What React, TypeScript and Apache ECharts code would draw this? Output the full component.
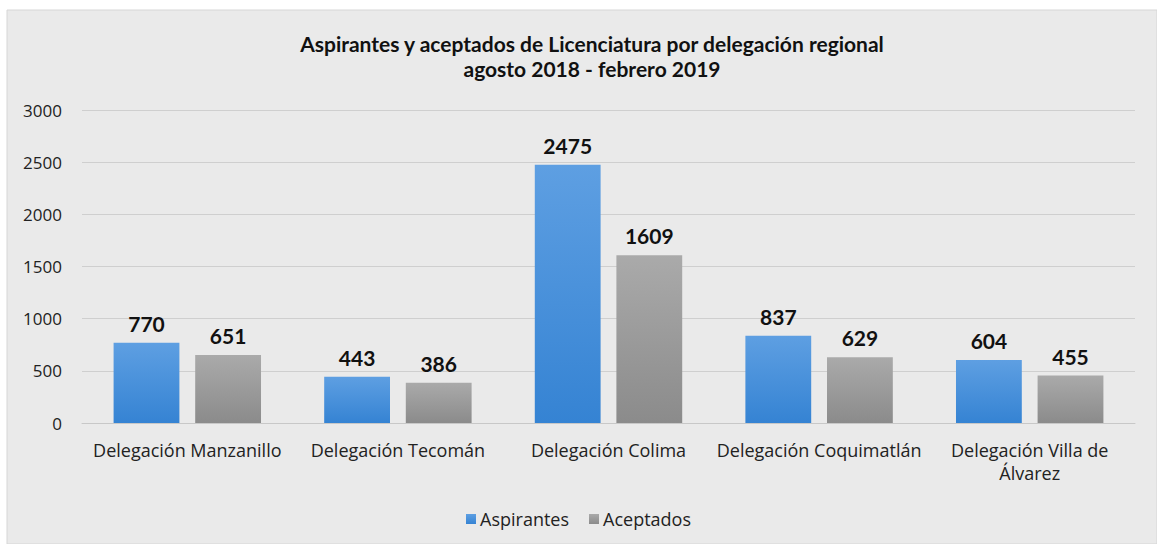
import React, { useEffect, useRef } from "react";
import * as echarts from "echarts";

const categories = [
  "Delegación Manzanillo",
  "Delegación Tecomán",
  "Delegación Colima",
  "Delegación Coquimatlán",
  "Delegación Villa de\nÁlvarez",
];
const aspirantes = [770, 443, 2475, 837, 604];
const aceptados = [651, 386, 1609, 629, 455];
const titleLines = [
  "Aspirantes y aceptados de Licenciatura por delegación regional",
  "agosto 2018 - febrero 2019",
];

const FONT = "'Open Sans', Lato, sans-serif";
const TFONT = "Lato, 'Open Sans', sans-serif";

export default function App() {
  const ref = useRef<HTMLDivElement>(null);
  useEffect(() => {
    const chart = echarts.init(ref.current!, null, { renderer: "svg" });
    const blue = new echarts.graphic.LinearGradient(0, 0, 0, 1, [
      { offset: 0, color: "#5e9fe2" },
      { offset: 1, color: "#3583d3" },
    ]);
    const grey = new echarts.graphic.LinearGradient(0, 0, 0, 1, [
      { offset: 0, color: "#aaaaaa" },
      { offset: 1, color: "#8b8b8b" },
    ]);
    const labelStyle = {
      show: true,
      position: "top",
      distance: 9,
      fontFamily: TFONT,
      fontSize: 21,
      fontWeight: "bold",
      color: "#111",
    };
    chart.setOption({
      animation: false,
      backgroundColor: "#ffffff",
      graphic: [
        {
          type: "rect",
          shape: { x: 7, y: 10, width: 1150, height: 534 },
          style: { fill: "#eaeaea", stroke: "#d6d6d6", lineWidth: 1 },
          z: -10,
        },
      ],
      title: {
        text: titleLines.join("\n"),
        left: 587,
        top: 26,
        textAlign: "center",
        textStyle: {
          fontFamily: TFONT,
          fontSize: 21,
          fontWeight: "bold",
          color: "#111",
          lineHeight: 25,
        },
      },
      legend: {
        bottom: 11,
        left: "center",
        itemWidth: 10,
        itemHeight: 10,
        itemGap: 20,
        icon: "rect",
        textStyle: { fontFamily: FONT, fontSize: 18, color: "#222", padding: [0, 0, 0, -1] },
        data: ["Aspirantes", "Aceptados"],
      },
      grid: { left: 82, right: 22, top: 110, bottom: 121, containLabel: false },
      xAxis: {
        type: "category",
        data: categories,
        axisLine: { lineStyle: { color: "#c8c8c8" } },
        axisTick: { show: false },
        axisLabel: {
          fontFamily: FONT,
          fontSize: 18,
          color: "#222",
          margin: 15,
          interval: 0,
          lineHeight: 23,
        },
      },
      yAxis: {
        type: "value",
        min: 0,
        max: 3000,
        interval: 500,
        axisLine: { show: false },
        axisTick: { show: false },
        splitLine: { lineStyle: { color: "#cfcfcf" } },
        axisLabel: {
          fontFamily: FONT,
          fontSize: 17,
          color: "#222",
          margin: 20,
          formatter: (v: number) => String(v),
        },
      },
      series: [
        {
          name: "Aspirantes",
          type: "bar",
          data: aspirantes,
          barGap: "24%",
          barCategoryGap: "30%",
          itemStyle: { color: blue },
          label: labelStyle,
        },
        {
          name: "Aceptados",
          type: "bar",
          data: aceptados,
          itemStyle: { color: grey },
          label: labelStyle,
        },
      ],
      color: ["#3d8ad8", "#999999"],
    });
    return () => chart.dispose();
  }, []);
  return (
    <div
      ref={ref}
      style={{ position: "absolute", left: 0, top: 0, width: 1157, height: 544 }}
    />
  );
}
